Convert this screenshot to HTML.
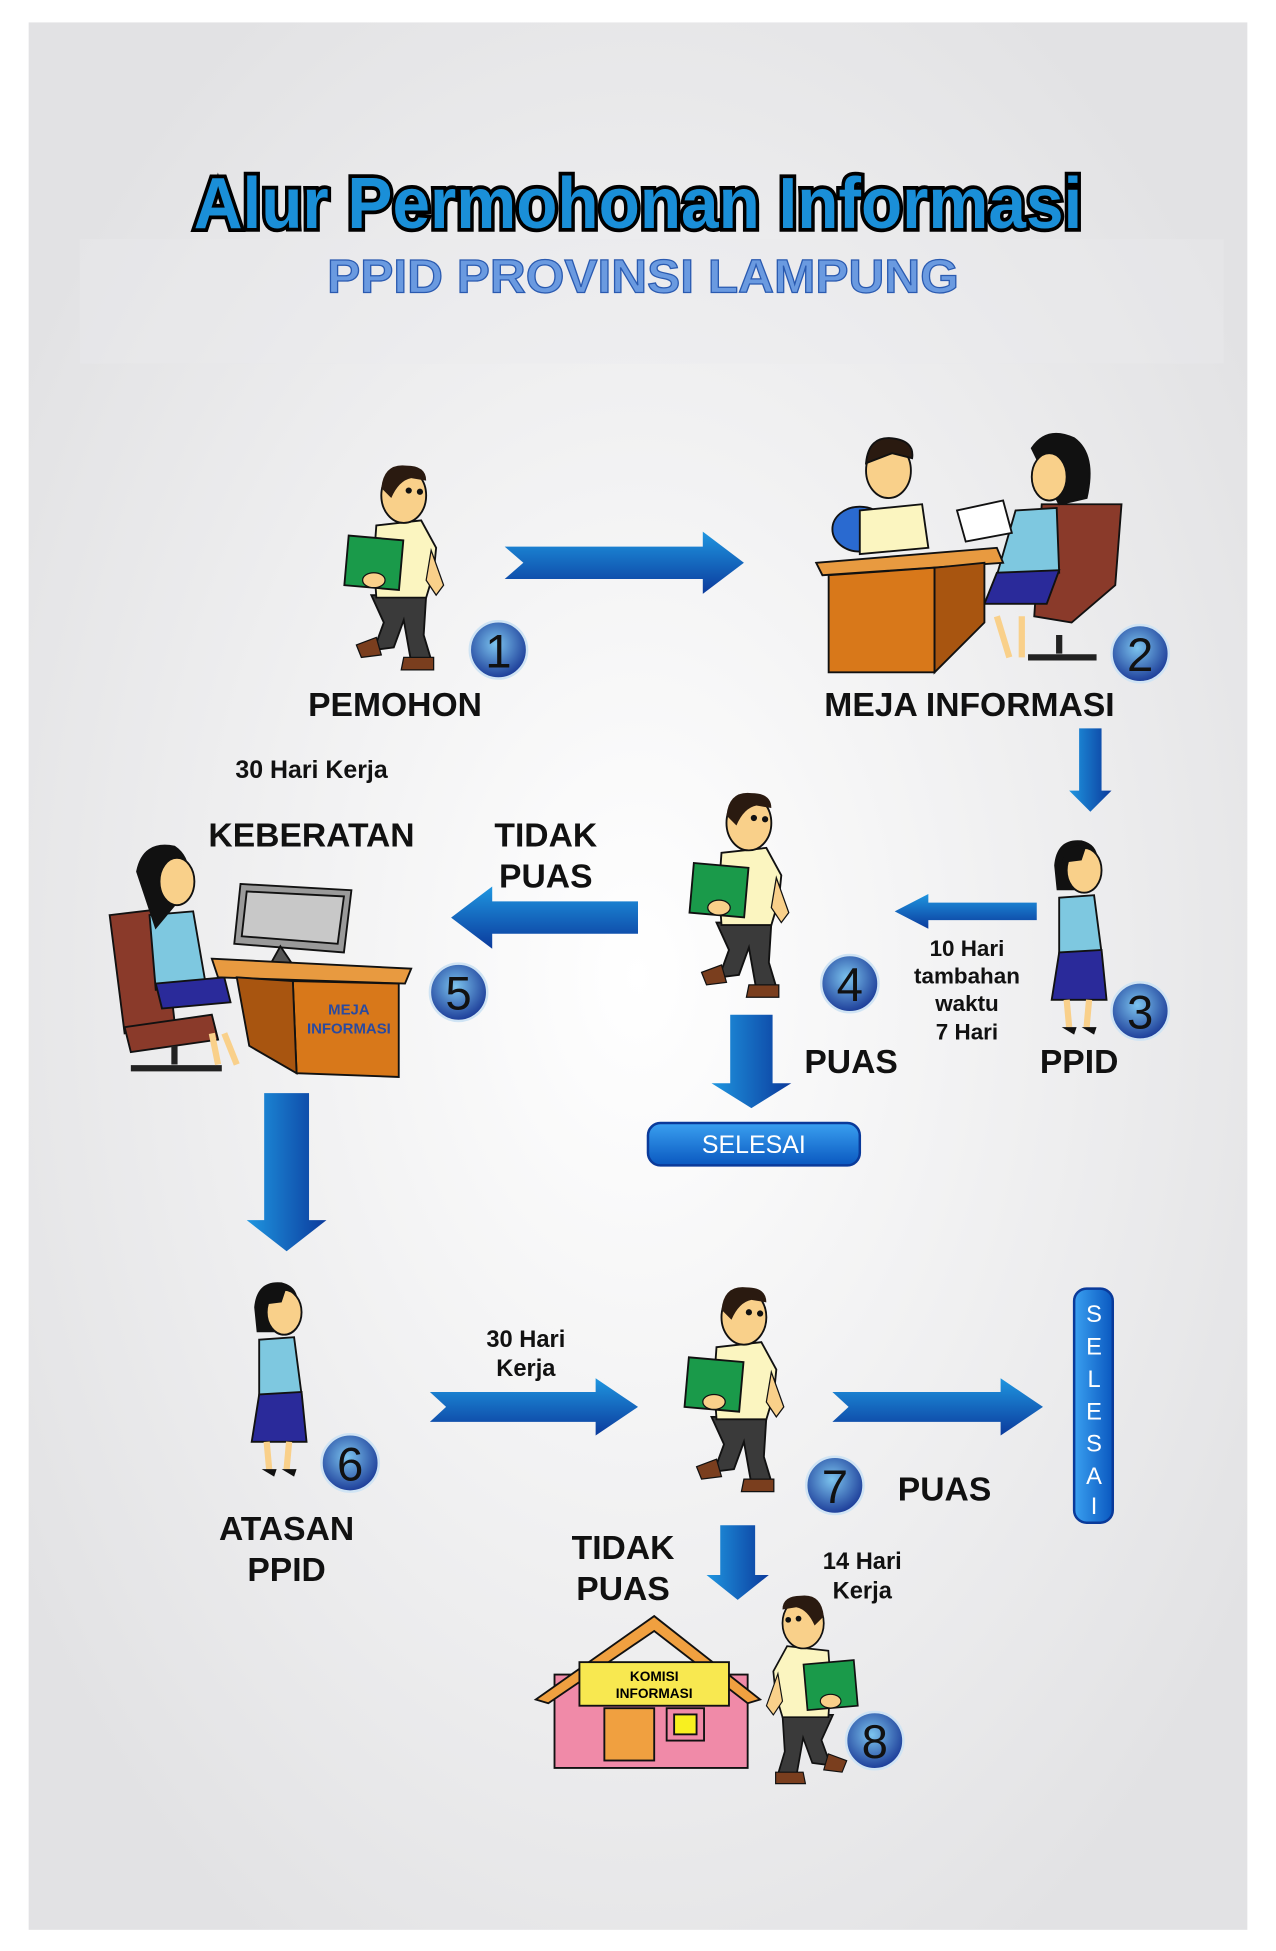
<!DOCTYPE html>
<html><head><meta charset="utf-8"><style>html,body{margin:0;padding:0;background:#fff}svg{display:block}</style></head>
<body>
<svg width="1276" height="1951" viewBox="0 0 1024 1567" preserveAspectRatio="none" xmlns="http://www.w3.org/2000/svg" font-family="Liberation Sans, sans-serif">
<defs>
<radialGradient id="bg" cx="50%" cy="50%" r="60%"><stop offset="0" stop-color="#ffffff"/><stop offset="1" stop-color="#e2e2e4"/></radialGradient>
<linearGradient id="ah" x1="0" y1="0" x2="0" y2="1"><stop offset="0" stop-color="#1f96e0"/><stop offset="1" stop-color="#0b3a9c"/></linearGradient>
<linearGradient id="av" x1="0" y1="0" x2="1" y2="0"><stop offset="0" stop-color="#1f96e0"/><stop offset="1" stop-color="#0b3a9c"/></linearGradient>
<radialGradient id="nc" cx="45%" cy="40%" r="60%"><stop offset="0" stop-color="#7cc4ee"/><stop offset="1" stop-color="#1c3c98"/></radialGradient>
<linearGradient id="btn" x1="0" y1="0" x2="0" y2="1"><stop offset="0" stop-color="#3aa0f0"/><stop offset="1" stop-color="#0a58c0"/></linearGradient>
<linearGradient id="btnv" x1="0" y1="0" x2="1" y2="0"><stop offset="0" stop-color="#3aa0f0"/><stop offset="1" stop-color="#0a58c0"/></linearGradient>
<g id="man">
 <path d="M18,108 L62,108 L60,140 L66,160 L50,162 L44,128 L36,150 L20,152 L28,130 Z" fill="#3a3a3a" stroke="#111" stroke-width="1.5"/>
 <path d="M6,148 L22,142 L26,156 L10,158 Z" fill="#7a3e1e" stroke="#111"/>
 <path d="M44,158 L68,158 L68,168 L42,168 Z" fill="#7a3e1e" stroke="#111"/>
 <path d="M22,52 L58,48 L70,70 L68,90 L62,110 L22,110 L20,80 Z" fill="#fbf5c0" stroke="#111" stroke-width="1.5"/>
 <path d="M66,72 L76,100 L70,108 L62,96 Z" fill="#f9d08a" stroke="#111"/>
 <rect x="-2" y="62" width="44" height="40" fill="#1a9a4a" stroke="#111" stroke-width="1.5" transform="rotate(5 20 82)"/>
 <ellipse cx="20" cy="96" rx="9" ry="6" fill="#f9d08a" stroke="#111"/>
 <ellipse cx="44" cy="28" rx="18" ry="22" fill="#f9d08a" stroke="#111" stroke-width="1.5"/>
 <path d="M26,22 Q28,2 46,4 Q62,4 62,16 L50,14 Q40,16 34,30 Z" fill="#2a1a10"/>
 <circle cx="48" cy="24" r="2.5" fill="#111"/><circle cx="57" cy="25" r="2.5" fill="#111"/>
</g>
<g id="woman">
 <path d="M8,20 Q10,-2 30,0 Q46,4 42,22 L40,40 L10,40 Z" fill="#111"/>
 <ellipse cx="32" cy="24" rx="14" ry="18" fill="#f9d08a" stroke="#111" stroke-width="1.5"/>
 <path d="M14,18 Q18,2 34,4 L30,16 Z" fill="#111"/>
 <path d="M12,46 L40,44 L46,90 L12,92 Z" fill="#7ec8e0" stroke="#111" stroke-width="1.5"/>
 <path d="M12,90 L46,88 L50,128 L6,128 Z" fill="#2a2a9a" stroke="#111" stroke-width="1.5"/>
 <path d="M18,128 L20,150 M36,128 L34,150" stroke="#f9d08a" stroke-width="5"/>
 <path d="M14,150 L26,150 L24,156 Z M30,150 L42,150 L40,156 Z" fill="#111"/>
</g>
</defs>
<rect width="1024" height="1567" fill="#fff"/>
<rect x="23" y="18" width="978" height="1532" fill="url(#bg)"/>
<rect x="64" y="192" width="918" height="100" fill="#ececee" opacity="0.35"/>
<text x="512" y="183" text-anchor="middle" font-size="58" font-weight="bold" fill="#1a8fd8" stroke="#000" stroke-width="6" paint-order="stroke" textLength="713" lengthAdjust="spacingAndGlyphs">Alur Permohonan Informasi</text>
<text x="516" y="235" text-anchor="middle" font-size="38" font-weight="bold" fill="#6a9ae0" stroke="#2a5ab0" stroke-width="1" textLength="507" lengthAdjust="spacingAndGlyphs">PPID PROVINSI LAMPUNG</text>

<g fill="url(#ah)">
<path d="M405,439 L564,439 L564,427 L597,452 L564,477 L564,465 L405,465 L420,452 Z"/>
<path d="M512,724 L395,724 L395,712 L362,737 L395,762 L395,750 L512,750 Z"/>
<path d="M832,725 L745,725 L745,718 L718,732 L745,746 L745,739 L832,739 Z"/>
<path d="M345,1118 L478,1118 L478,1107 L512,1130 L478,1153 L478,1142 L345,1142 L358,1130 Z"/>
<path d="M668,1118 L803,1118 L803,1107 L837,1130 L803,1153 L803,1142 L668,1142 L681,1130 Z"/>
</g>
<g fill="url(#av)">
<path d="M866,585 L884,585 L884,635 L892,635 L875,652 L858,635 L866,635 Z"/>
<path d="M586,815 L620,815 L620,870 L635,870 L603,890 L571,870 L586,870 Z"/>
<path d="M212,878 L248,878 L248,980 L262,980 L230,1005 L198,980 L212,980 Z"/>
<path d="M578,1225 L606,1225 L606,1265 L617,1265 L592,1285 L567,1265 L578,1265 Z"/>
</g>

<use href="#man" x="280" y="370"/>
<use href="#man" x="557" y="633"/>
<use href="#man" x="553" y="1030"/>
<g transform="translate(685,1278) scale(-0.92,0.92)"><use href="#man"/></g>
<use href="#woman" x="838" y="675"/>
<use href="#woman" x="196" y="1030"/>

<g stroke="#111" stroke-width="1.5">
 <ellipse cx="690" cy="425" rx="22" ry="18" fill="#2a6ad0"/>
 <path d="M690,410 L740,405 L745,440 L690,445 Z" fill="#fbf5c0"/>
 <ellipse cx="713" cy="378" rx="18" ry="22" fill="#f9d08a"/>
 <path d="M695,372 Q697,350 716,352 Q734,354 732,368 L716,364 Z" fill="#2a1a10"/>
 <path d="M836,405 L900,405 L895,470 L860,500 L830,495 Z" fill="#8a3a2a"/>
 <path d="M850,510 L850,525 M825,528 L880,528" stroke="#222" stroke-width="5"/>
 <path d="M815,410 L848,408 L850,460 L800,462 Z" fill="#7ec8e0"/>
 <path d="M800,460 L850,458 L840,485 L790,485 Z" fill="#2a2a9a"/>
 <path d="M828,360 Q840,342 862,352 Q880,365 872,400 L850,405 Z" fill="#111"/>
 <ellipse cx="842" cy="383" rx="14" ry="19" fill="#f9d08a"/>
 <path d="M768,410 L805,402 L812,428 L775,435 Z" fill="#fff"/>
 <path d="M655,452 L800,440 L805,452 L660,462 Z" fill="#e89a40"/>
 <path d="M665,462 L750,456 L750,540 L665,540 Z" fill="#d8781a"/>
 <path d="M750,456 L790,452 L790,500 L750,540 Z" fill="#a85510"/>
 <path d="M800,495 L810,528 M820,495 L820,528" stroke="#f9d08a" stroke-width="5"/>
</g>

<g stroke="#111" stroke-width="1.5">
 <path d="M88,735 L130,730 L140,820 L100,830 Z" fill="#8a3a2a"/>
 <path d="M100,825 L170,815 L175,835 L105,845 Z" fill="#8a3a2a"/>
 <path d="M140,840 L140,855 M105,858 L178,858" stroke="#222" stroke-width="5"/>
 <path d="M120,735 L155,732 L165,790 L125,795 Z" fill="#7ec8e0"/>
 <path d="M125,790 L180,785 L185,805 L130,810 Z" fill="#2a2a9a"/>
 <path d="M110,700 Q115,675 140,680 Q155,690 150,715 L125,745 Z" fill="#111"/>
 <ellipse cx="142" cy="708" rx="14" ry="19" fill="#f9d08a"/>
 <path d="M193,710 L282,715 L276,765 L188,758 Z" fill="#9a9a9a"/>
 <path d="M198,716 L276,720 L271,758 L194,752 Z" fill="#c8c8c8"/>
 <path d="M225,760 L235,775 L215,778 Z" fill="#555"/>
 <path d="M170,770 L330,778 L325,790 L175,785 Z" fill="#e89a40"/>
 <path d="M235,788 L320,790 L320,865 L238,862 Z" fill="#d8781a"/>
 <path d="M190,785 L235,788 L238,862 L200,840 Z" fill="#a85510"/>
 <path d="M170,830 L175,855 M180,830 L190,855" stroke="#f9d08a" stroke-width="5"/>
</g>
<text x="280" y="815" text-anchor="middle" font-size="12" font-weight="bold" fill="#2a4aa0">MEJA</text>
<text x="280" y="830" text-anchor="middle" font-size="12" font-weight="bold" fill="#2a4aa0">INFORMASI</text>

<g stroke="#111" stroke-width="1.5">
 <path d="M445,1345 L600,1345 L600,1420 L445,1420 Z" fill="#f08aa8"/>
 <path d="M430,1365 L525,1298 L610,1365 L600,1368 L525,1310 L440,1368 Z" fill="#f0a040"/>
 <rect x="465" y="1335" width="120" height="35" fill="#f8e850"/>
 <rect x="485" y="1372" width="40" height="42" fill="#f0a040"/>
 <rect x="535" y="1372" width="30" height="26" fill="#f08aa8"/>
 <rect x="541" y="1377" width="18" height="16" fill="#f8f020"/>
</g>
<text x="525" y="1350" text-anchor="middle" font-size="11" font-weight="bold">KOMISI</text>
<text x="525" y="1364" text-anchor="middle" font-size="11" font-weight="bold">INFORMASI</text>

<g stroke="#d0e4f4" stroke-width="2" fill="url(#nc)">
<circle cx="400" cy="522" r="23"/><circle cx="915" cy="525" r="23"/><circle cx="915" cy="812" r="23"/>
<circle cx="682" cy="790" r="23"/><circle cx="368" cy="797" r="23"/><circle cx="281" cy="1175" r="23"/>
<circle cx="670" cy="1193" r="23"/><circle cx="702" cy="1398" r="23"/>
</g>
<g font-size="38" text-anchor="middle" fill="#111">
<text x="400" y="536">1</text><text x="915" y="539">2</text><text x="915" y="826">3</text>
<text x="682" y="804">4</text><text x="368" y="811">5</text><text x="281" y="1189">6</text>
<text x="670" y="1207">7</text><text x="702" y="1412">8</text>
</g>

<rect x="520" y="902" width="170" height="34" rx="10" fill="url(#btn)" stroke="#0a3a9a" stroke-width="2"/>
<text x="605" y="926" text-anchor="middle" font-size="20" fill="#fff">SELESAI</text>
<rect x="862" y="1035" width="31" height="188" rx="10" fill="url(#btnv)" stroke="#0a3a9a" stroke-width="2"/>
<g font-size="19" fill="#fff" text-anchor="middle">
<text x="878" y="1062">S</text><text x="878" y="1088">E</text><text x="878" y="1114">L</text><text x="878" y="1140">E</text><text x="878" y="1166">S</text><text x="878" y="1192">A</text><text x="878" y="1216">I</text>
</g>

<g font-weight="bold" fill="#111" text-anchor="middle">
<text x="317" y="575" font-size="27">PEMOHON</text>
<text x="778" y="575" font-size="27">MEJA INFORMASI</text>
<text x="866" y="862" font-size="27">PPID</text>
<text x="683" y="862" font-size="27">PUAS</text>
<text x="250" y="625" font-size="20">30 Hari Kerja</text>
<text x="250" y="680" font-size="27">KEBERATAN</text>
<text x="438" y="680" font-size="27">TIDAK</text>
<text x="438" y="713" font-size="27">PUAS</text>
<text x="776" y="768" font-size="18">10 Hari</text>
<text x="776" y="790" font-size="18">tambahan</text>
<text x="776" y="812" font-size="18">waktu</text>
<text x="776" y="835" font-size="18">7 Hari</text>
<text x="230" y="1237" font-size="27">ATASAN</text>
<text x="230" y="1270" font-size="27">PPID</text>
<text x="422" y="1082" font-size="19">30 Hari</text>
<text x="422" y="1105" font-size="19">Kerja</text>
<text x="758" y="1205" font-size="27">PUAS</text>
<text x="500" y="1252" font-size="27">TIDAK</text>
<text x="500" y="1285" font-size="27">PUAS</text>
<text x="692" y="1260" font-size="19">14 Hari</text>
<text x="692" y="1284" font-size="19">Kerja</text>
</g>
</svg>
</body></html>
